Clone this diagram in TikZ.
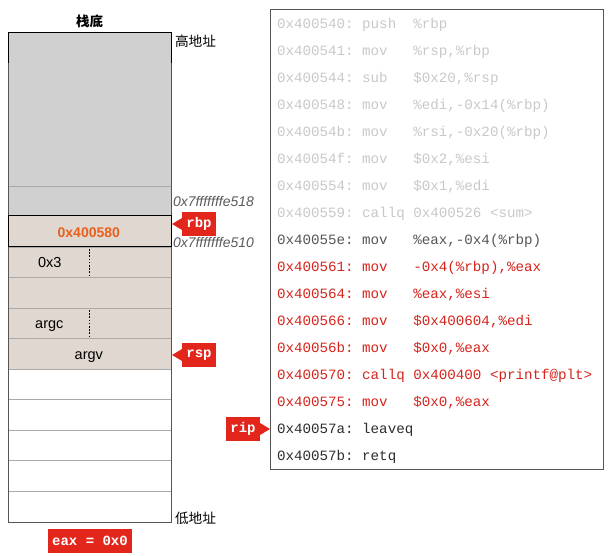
\documentclass[tikz,border=0pt]{standalone}
\usepackage{fontspec}
\setmainfont{Liberation Sans}
\newfontfamily\codefont{Liberation Mono}
\newfontfamily\cjk{Noto Sans CJK SC}
\usetikzlibrary{positioning,calc}
\definecolor{stackGray}{RGB}{208,208,208}
\definecolor{stackTan}{RGB}{224,216,208}
\definecolor{tagRed}{RGB}{226,38,28}
\definecolor{codeRed}{RGB}{212,36,28}
\definecolor{codeLight}{RGB}{200,200,200}
\definecolor{codeDark}{RGB}{85,85,85}
\definecolor{codeBlack}{RGB}{45,45,45}
\definecolor{addrGray}{RGB}{90,90,90}
\definecolor{valOrange}{RGB}{232,96,28}
\definecolor{rowLine}{RGB}{170,170,170}

\begin{document}
\begin{tikzpicture}[x=1pt, y=-1pt,
    every node/.style={inner sep=0pt, outer sep=0pt},
    tag/.style={fill=tagRed, text=white, font=\codefont\bfseries\fontsize{14}{14}\selectfont, minimum width=34pt, minimum height=24pt},
    codeline/.style={anchor=west, font=\codefont\fontsize{14.2}{16}\selectfont, text height=10pt, text depth=3pt},
    cell/.style={anchor=base, font=\fontsize{14.5}{15}\selectfont},
    addr/.style={anchor=west, text=addrGray, font=\itshape\fontsize{14}{14}\selectfont},
    side/.style={anchor=west, font=\cjk\fontsize{13.7}{14}\selectfont},
    sep/.style={black, line width=1.6pt, dash pattern=on 1.6pt off 1.6pt}]
    \useasboundingbox (0,0) rectangle (608,556);

    % stack
    \fill[stackGray] (8,33) rectangle (171,216);
    \fill[stackTan] (8,216) rectangle (171,369);
    \foreach \y in {186,247,277,308,338,369,399,430,460,491}
        \draw[rowLine, line width=0.8pt] (8,\y) -- (171,\y);
    \draw[codeDark, line width=1pt] (8,33) rectangle (171,522);
    \draw[black, line width=1pt] (8,63) -- (8,33) -- (171,33) -- (171,63);
    \draw[black, line width=1pt] (8,216) rectangle (171,247);
    \draw[sep] (89.5,249) -- (89.5,276);
    \draw[sep] (89.5,310) -- (89.5,337);

    \node[font=\cjk\bfseries\fontsize{13.5}{14}\selectfont] (bottom) at (89.5,21) {栈底};
    \node[side] (high) at (175,41) {高地址};
    \node[side] (low) at (175,518) {低地址};
    \node[addr] (a518) at (173,201) {0x7fffffffe518};
    \node[addr] (a510) at (173,242) {0x7fffffffe510};

    \node[anchor=base, text=valOrange, font=\bfseries\fontsize{14}{14}\selectfont] (ret) at (88.8,238) {0x400580};
    \node[cell] (three) at (49.7,268) {0x3};
    \node[cell] (argc) at (49.3,328) {argc};
    \node[cell] (argv) at (88.8,359) {argv};

    % registers
    \node[tag] (rbp) at (199,224) {rbp};
    \fill[tagRed] ($(rbp.west)+(0,-6)$) -- ($(rbp.west)+(-10,0)$) -- ($(rbp.west)+(0,6)$) -- cycle;
    \node[tag] (rsp) at (199,355) {rsp};
    \fill[tagRed] ($(rsp.west)+(0,-6)$) -- ($(rsp.west)+(-10,0)$) -- ($(rsp.west)+(0,6)$) -- cycle;
    \node[tag] (rip) at (243,429) {rip};
    \fill[tagRed] ($(rip.east)+(0,-6)$) -- ($(rip.east)+(10,0)$) -- ($(rip.east)+(0,6)$) -- cycle;
    \node[tag, minimum width=84pt] (eax) at (90,540.5) {eax~=~0x0};

    % code
    \draw[codeDark, line width=1pt] (270,10) rectangle (603,469);
    \foreach \c/\t [count=\i] in {
        codeLight/{0x400540:~push~~\%rbp},
        codeLight/{0x400541:~mov~~~\%rsp,\%rbp},
        codeLight/{0x400544:~sub~~~\$0x20,\%rsp},
        codeLight/{0x400548:~mov~~~\%edi,-0x14(\%rbp)},
        codeLight/{0x40054b:~mov~~~\%rsi,-0x20(\%rbp)},
        codeLight/{0x40054f:~mov~~~\$0x2,\%esi},
        codeLight/{0x400554:~mov~~~\$0x1,\%edi},
        codeLight/{0x400559:~callq~0x400526~<sum>},
        codeDark/{0x40055e:~mov~~~\%eax,-0x4(\%rbp)},
        codeRed/{0x400561:~mov~~~-0x4(\%rbp),\%eax},
        codeRed/{0x400564:~mov~~~\%eax,\%esi},
        codeRed/{0x400566:~mov~~~\$0x400604,\%edi},
        codeRed/{0x40056b:~mov~~~\$0x0,\%eax},
        codeRed/{0x400570:~callq~0x400400~<printf@plt>},
        codeRed/{0x400575:~mov~~~\$0x0,\%eax},
        codeBlack/{0x40057a:~leaveq},
        codeBlack/{0x40057b:~retq}}
        \node[codeline, text=\c] (l\i) at (277,{25+27*(\i-1)}) {\t};
\end{tikzpicture}
\end{document}
